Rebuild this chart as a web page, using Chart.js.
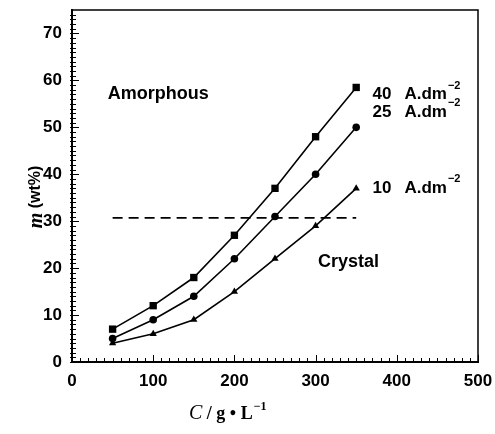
<!DOCTYPE html>
<html><head><meta charset="utf-8">
<script src="https://cdn.jsdelivr.net/npm/chart.js@4"></script>
<style>html,body{margin:0;padding:0;background:#fff}</style>
</head><body>
<canvas id="c" width="495" height="434"></canvas>
<script>
// ---- data ----
const concentrations = [50, 100, 150, 200, 250, 300, 350];
const m40 = [7, 12, 18, 27, 37, 48, 58.5];
const m25 = [5, 9, 14, 22, 31, 40, 50];
const m10 = [4, 6, 9, 15, 22, 29, 37];
const boundaryX = [50, 350];
const boundaryY = [30.7, 30.7];
const xTickValues = [0, 100, 200, 300, 400, 500];
const yTickValues = [0, 10, 20, 30, 40, 50, 60, 70];
const currentLabels = ['40', '25', '10'];
const regionLabels = ['Amorphous', 'Crystal'];

const pts = (xs, ys) => xs.map((x, i) => ({x, y: ys[i]}));

// annotation anchors in data units
const seriesLabelAnchors = [{x: 370, y: 57}, {x: 370, y: 53.2}, {x: 370, y: 37}];
const regionAnchors = [{x: 44, y: 57.2}, {x: 303, y: 21.3}];

const SANS = '"Liberation Sans", Arial, sans-serif';
const SERIF = '"Liberation Serif", "Times New Roman", serif';

const decor = {
  id: 'decor',
  afterDraw(chart) {
    const ctx = chart.ctx, a = chart.chartArea;
    const xs = chart.scales.x, ys = chart.scales.y;
    ctx.save();
    ctx.strokeStyle = '#000';
    // frame top/right
    ctx.lineWidth = 1.5;
    ctx.beginPath();
    ctx.moveTo(a.left, a.top); ctx.lineTo(a.right, a.top); ctx.lineTo(a.right, a.bottom);
    ctx.stroke();
    // inward ticks
    ctx.lineWidth = 1;
    for (let v = 0; v <= 500; v += 10) {
      const px = Math.round(xs.getPixelForValue(v)) + 0.5;
      const len = v % 100 === 0 ? 7 : 4;
      ctx.beginPath(); ctx.moveTo(px, a.bottom); ctx.lineTo(px, a.bottom - len); ctx.stroke();
    }
    for (let v = 0; v <= 74; v += 1) {
      const py = Math.round(ys.getPixelForValue(v)) + 0.5;
      const len = v % 10 === 0 ? 7 : 4;
      ctx.beginPath(); ctx.moveTo(a.left - 2, py); ctx.lineTo(a.left + len, py); ctx.stroke();
    }
    // series labels
    ctx.fillStyle = '#000';
    ctx.textBaseline = 'middle';
    ctx.textAlign = 'left';
    currentLabels.forEach((t, i) => {
      const px = xs.getPixelForValue(seriesLabelAnchors[i].x);
      const py = ys.getPixelForValue(seriesLabelAnchors[i].y);
      ctx.font = 'bold 17px ' + SANS;
      ctx.fillText(t, px, py);
      const s = 'A.dm';
      ctx.fillText(s, px + 32, py);
      const w = ctx.measureText(s).width;
      ctx.font = 'bold 11px ' + SANS;
      ctx.fillText('\u22122', px + 33 + w, py - 9);
    });
    // region labels
    ctx.font = 'bold 18px ' + SANS;
    regionLabels.forEach((t, i) => {
      ctx.fillText(t, xs.getPixelForValue(regionAnchors[i].x), ys.getPixelForValue(regionAnchors[i].y));
    });
    // y title
    ctx.save();
    ctx.translate(36, 197);
    ctx.rotate(-Math.PI / 2);
    ctx.textBaseline = 'middle';
    ctx.font = 'italic bold 20px ' + SERIF;
    const w1 = ctx.measureText('m').width;
    ctx.font = 'bold 16px ' + SANS;
    const t2 = ' (wt%)';
    const w2 = ctx.measureText(t2).width;
    let sx = -(w1 + w2) / 2;
    ctx.font = 'italic bold 20px ' + SERIF;
    ctx.fillText('m', sx, 1);
    ctx.font = 'bold 16px ' + SANS;
    ctx.fillText(t2, sx + w1, 0);
    ctx.restore();
    // x title
    ctx.textBaseline = 'alphabetic';
    let x0 = 189, y0 = 419;
    ctx.font = 'italic 20px ' + SERIF;
    ctx.fillText('C', x0, y0); x0 += ctx.measureText('C').width;
    ctx.font = 'bold 18px ' + SERIF;
    const mid = ' / g \u2022 L';
    ctx.fillText(mid, x0, y0); x0 += ctx.measureText(mid).width;
    ctx.font = 'bold 12px ' + SERIF;
    ctx.fillText('\u22121', x0 + 1, y0 - 9);
    ctx.restore();
  }
};

const lineDs = (data, style, r) => ({
  data, borderColor: '#000', backgroundColor: '#000', borderWidth: 1.6,
  pointStyle: style, pointRadius: r, pointBorderWidth: 0, pointBackgroundColor: '#000',
  showLine: true, tension: 0
});

new Chart(document.getElementById('c'), {
  type: 'scatter',
  data: {
    datasets: [
      lineDs(pts(concentrations, m40), 'rect', 5.2),
      lineDs(pts(concentrations, m25), 'circle', 3.8),
      lineDs(pts(concentrations, m10), 'triangle', 4.2),
      {data: pts(boundaryX, boundaryY), borderColor: '#000', borderWidth: 1.6, borderDash: [10, 6],
       pointRadius: 0, showLine: true}
    ]
  },
  options: {
    responsive: false, animation: false, events: [],
    layout: {padding: {top: 10, right: 17, left: 0, bottom: 0}},
    plugins: {legend: {display: false}, tooltip: {enabled: false}},
    scales: {
      x: {
        type: 'linear', min: 0, max: 500,
        afterBuildTicks: s => { s.ticks = xTickValues.map(v => ({value: v})); },
        afterFit: s => { s.height = 72; s.paddingLeft = 0; s.paddingRight = 0; },
        grid: {drawOnChartArea: false, drawTicks: false},
        border: {display: true, color: '#000', width: 2},
        ticks: {color: '#000', font: {family: SANS, size: 17, weight: 'bold'}, padding: 9, maxRotation: 0}
      },
      y: {
        type: 'linear', min: 0, max: 75,
        afterBuildTicks: s => { s.ticks = yTickValues.map(v => ({value: v})); },
        afterFit: s => { s.width = 72; s.paddingTop = 0; s.paddingBottom = 0; },
        grid: {drawOnChartArea: false, drawTicks: false},
        border: {display: true, color: '#000', width: 2},
        ticks: {color: '#000', font: {family: SANS, size: 17, weight: 'bold'}, padding: 10}
      }
    }
  },
  plugins: [decor]
});
</script>
</body></html>
